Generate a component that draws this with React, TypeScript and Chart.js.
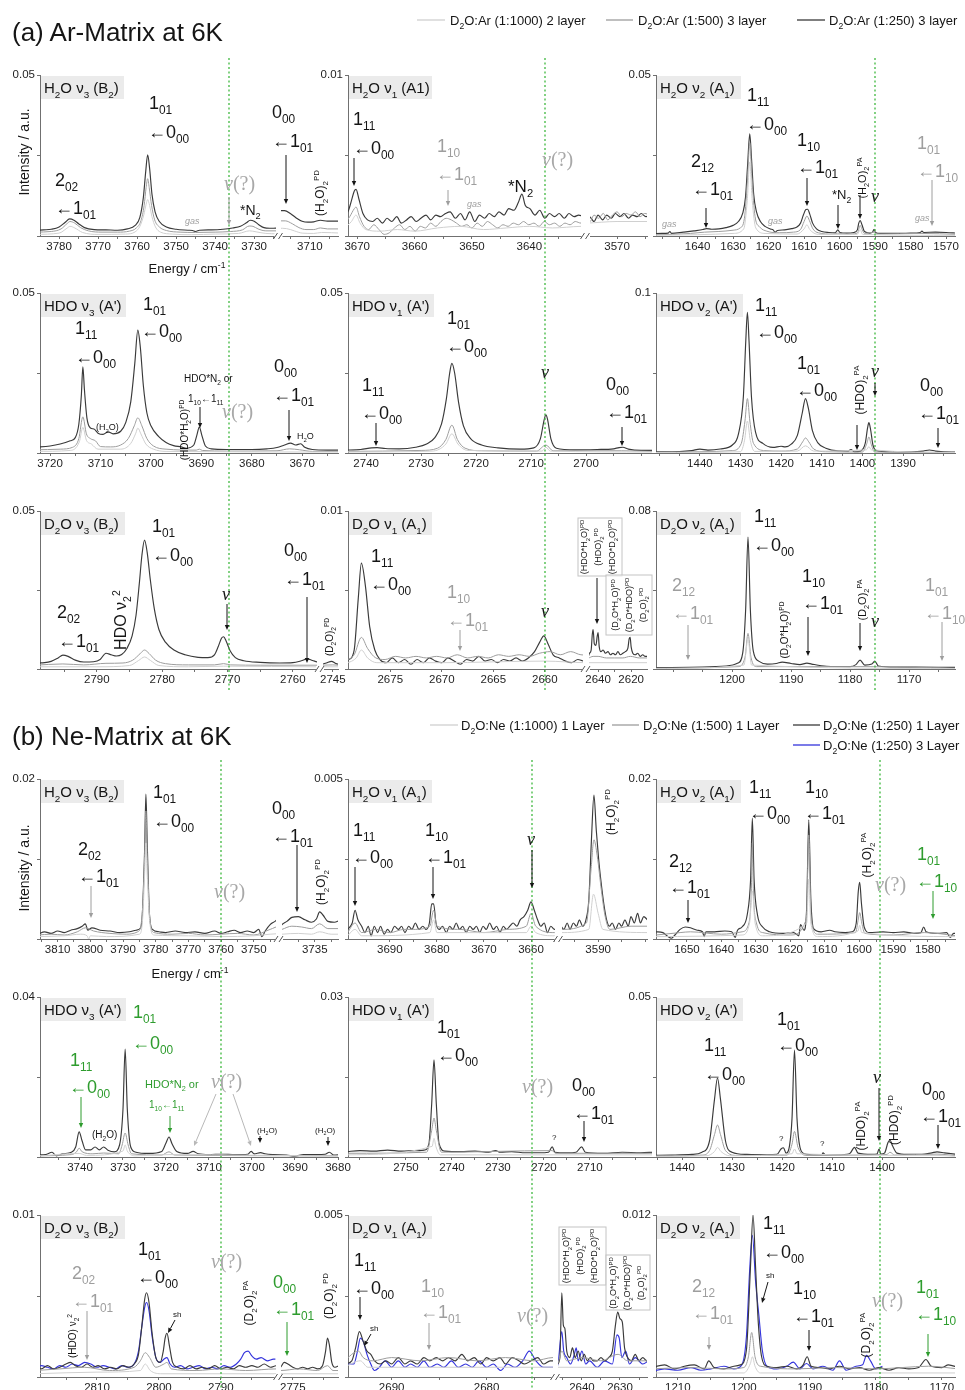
import React, { useEffect, useRef } from "react";
import { Chart, registerables } from "chart.js";

Chart.register(...registerables);

type Pt = [number, number];

const FONT = "'Liberation Sans', Arial, Helvetica, sans-serif";
const SERIF = "'Liberation Serif', 'DejaVu Serif', serif";
const C_DARK = "#3a3a3a";
const C_MID = "#9d9d9d";
const C_LIGHT = "#d0d0d0";
const C_BLUE = "#3434dc";
const AXIS = "#707070";
const BLK = "#151515";
const GRAY = "#9e9e9e";
const GREEN = "#2e9c2e";
const GREEN_LINE = "#3fb83f";

// ===================== DATA : (a) Ar matrix =====================
// H2O v3
const A_H2O_V3_DARK: Pt[] = [[3786,0.0017],[3784,0.0019],[3782,0.0021],[3780,0.0028],[3778.5,0.0042],[3777.3,0.0053],[3776.2,0.0049],[3775,0.0038],[3773.5,0.0026],[3771,0.002],[3768,0.0019],[3765,0.0018],[3762.5,0.0022],[3760.5,0.0033],[3759.3,0.0058],[3758.4,0.012],[3757.8,0.02],[3757.3,0.0252],[3756.8,0.021],[3756.2,0.013],[3755.4,0.0075],[3754.3,0.0045],[3752.5,0.0028],[3750,0.0021],[3747,0.0018],[3745.8,0.0017],[3745,0.0014],[3744,0.0018],[3741,0.0019],[3738,0.0021],[3735.5,0.0025],[3733.5,0.003],[3732,0.0041],[3731,0.0049],[3730,0.0046],[3728.8,0.0035],[3727.5,0.0026],[3726,0.0024],[3724,0.0025],[3718,0.0078],[3716.5,0.0079],[3715,0.007],[3713.5,0.0056],[3712,0.0046],[3710.5,0.0043],[3709,0.0044],[3707.3,0.0049],[3705.5,0.0046],[3703,0.0046],[3702,0.0046]];
const A_H2O_V3_MID: Pt[] = [[3786,0.0012],[3782,0.0014],[3779.5,0.0022],[3778,0.0038],[3777.2,0.0045],[3776,0.004],[3774.5,0.0026],[3772.5,0.0016],[3769,0.0012],[3765,0.0012],[3762,0.0015],[3760.2,0.0025],[3759,0.0048],[3758.2,0.0095],[3757.7,0.015],[3757.3,0.0178],[3756.9,0.015],[3756.3,0.0095],[3755.5,0.005],[3754.3,0.0028],[3752.5,0.0017],[3749,0.0012],[3745,0.0011],[3740,0.0012],[3736,0.0014],[3733,0.0019],[3731.3,0.0031],[3730.3,0.003],[3729,0.0022],[3727,0.0016],[3724,0.0016],[3718,0.0047],[3716.3,0.0047],[3714.5,0.0038],[3712.8,0.0026],[3711,0.002],[3709,0.002],[3707.3,0.0025],[3705.5,0.0022],[3702,0.0022]];
const A_H2O_V3_LIGHT: Pt[] = [[3786,0.0005],[3780,0.0009],[3778,0.0024],[3777.2,0.003],[3776,0.0025],[3774,0.0011],[3770,0.0005],[3763,0.0006],[3760.5,0.0013],[3759.3,0.003],[3758.3,0.0065],[3757.7,0.0098],[3757.3,0.0113],[3756.8,0.0095],[3756.2,0.006],[3755.3,0.0028],[3754,0.0012],[3751,0.0006],[3746,0.0004],[3740,0.0006],[3734,0.0008],[3731.2,0.0016],[3729.5,0.0013],[3727,0.0008],[3724,0.0007],[3718,0.0024],[3716,0.0023],[3714,0.0016],[3712,0.0009],[3709,0.0008],[3707,0.0011],[3702,0.0009]];
// H2O v1
const A_H2O_V1_DARK: Pt[] = [[3672.5,0.0011],[3671.5,0.0016],[3671,0.0022],[3670.5,0.0028],[3670.2,0.0029],[3669.7,0.0023],[3669,0.0014],[3668.2,0.001],[3667.3,0.0009],[3666.5,0.0011],[3665.6,0.0008],[3664.8,0.0011],[3664,0.0009],[3663.1,0.0012],[3662.3,0.0008],[3661.4,0.001],[3660.6,0.0012],[3659.7,0.0009],[3658.9,0.0011],[3658,0.0013],[3657.2,0.001],[3656.3,0.0013],[3655.5,0.0012],[3654.6,0.0014],[3653.8,0.0015],[3652.9,0.0011],[3652,0.0014],[3651.2,0.001],[3650.4,0.0015],[3649.5,0.0009],[3648.7,0.0013],[3647.8,0.0011],[3647,0.0014],[3646.1,0.0012],[3645.3,0.0015],[3644.4,0.0013],[3643.6,0.0017],[3642.7,0.0016],[3641.9,0.0021],[3641.3,0.0026],[3640.7,0.0019],[3639.9,0.0017],[3639,0.0013],[3638.2,0.0016],[3637.3,0.0011],[3636.5,0.0014],[3635.6,0.0012],[3634.8,0.0014],[3633.9,0.0011],[3633.1,0.0014],[3632.2,0.0012],[3631.4,0.0013],[3630.5,0.0012],[3575.5,0.001],[3574.8,0.0012],[3574,0.0009],[3573.3,0.0013],[3572.5,0.001],[3571.8,0.0013],[3571,0.0011],[3570.3,0.0014],[3569.5,0.0012],[3568.8,0.0014],[3568,0.0011],[3567.3,0.0013],[3566.5,0.0012],[3565.8,0.0014],[3565,0.0012],[3564.3,0.0013]];
const A_H2O_V1_MID: Pt[] = [[3672.5,0.0006],[3671.3,0.0012],[3670.5,0.0017],[3670.2,0.0018],[3669.6,0.0012],[3668.8,0.0006],[3668,0.0004],[3667.1,0.0007],[3666.2,0.0004],[3665.3,0.0001],[3664.4,0.0002],[3663.5,0.0005],[3662.6,0.0007],[3661.7,0.0004],[3660.8,0.0006],[3659.9,0.0003],[3659,0.0006],[3658.1,0.0005],[3657.2,0.0008],[3656.3,0.0006],[3655.4,0.0009],[3654.5,0.0011],[3653.6,0.001],[3652.7,0.0008],[3651.8,0.0006],[3650.9,0.0007],[3650,0.0005],[3649.1,0.0008],[3648.2,0.0006],[3647.3,0.0009],[3646.4,0.0007],[3645.5,0.0005],[3644.6,0.0007],[3643.7,0.0006],[3642.8,0.0008],[3641.9,0.0007],[3641,0.0009],[3640.1,0.0007],[3639.2,0.0008],[3638.3,0.0006],[3637.4,0.0009],[3636.5,0.0007],[3635.6,0.0008],[3634.7,0.0006],[3633.8,0.0008],[3632.9,0.0007],[3632,0.0009],[3631,0.0008],[3575.5,0.0012],[3574.7,0.0009],[3574,0.0013],[3573.2,0.0011],[3572.4,0.0014],[3571.6,0.001],[3570.8,0.0013],[3570,0.0015],[3569.2,0.0012],[3568.4,0.0014],[3567.6,0.0013],[3566.8,0.0015],[3566,0.0012],[3565.2,0.0014],[3564.3,0.0013]];
const A_H2O_V1_LIGHT: Pt[] = [[3672.5,0.0004],[3671,0.0009],[3670.2,0.0013],[3669.5,0.0008],[3668.5,0.0004],[3666,0.0003],[3663,0.0004],[3660,0.0003],[3656,0.0005],[3652,0.0006],[3648,0.0004],[3644,0.0005],[3640,0.0006],[3636,0.0005],[3631,0.0006],[3575.5,0.0008],[3570,0.0009],[3564.3,0.0009]];
// H2O v2
const A_H2O_V2_DARK: Pt[] = [[1653,0.0007],[1650,0.0008],[1648.3,0.0009],[1647.8,0.0014],[1647.3,0.0008],[1644,0.0012],[1641,0.0016],[1638.5,0.002],[1637.5,0.0023],[1636,0.0021],[1634,0.0022],[1632,0.0026],[1630,0.0033],[1628.5,0.0045],[1627.3,0.007],[1626.5,0.012],[1625.9,0.022],[1625.3,0.0317],[1624.8,0.024],[1624.2,0.013],[1623.4,0.0075],[1622.3,0.0045],[1621,0.003],[1619.5,0.0022],[1618.7,0.0019],[1618.2,0.0012],[1617.5,0.0017],[1615.5,0.0019],[1613.5,0.0023],[1612,0.0028],[1611,0.004],[1610.2,0.0065],[1609.5,0.0082],[1609,0.0083],[1608.4,0.0068],[1607.6,0.004],[1606.5,0.0022],[1605,0.0014],[1603,0.0011],[1601.2,0.001],[1600.5,0.0019],[1599.9,0.0011],[1598,0.0009],[1596,0.0011],[1595,0.0019],[1594.6,0.004],[1594.2,0.0048],[1593.7,0.0035],[1593,0.0014],[1591.5,0.0009],[1590.7,0.0012],[1590.3,0.0021],[1589.9,0.0011],[1588.5,0.0008],[1584,0.0008],[1580,0.0009],[1577.3,0.0011],[1576.8,0.0015],[1576.3,0.0011],[1573,0.0012],[1570,0.0011],[1567,0.0009]];
const A_H2O_V2_MID: Pt[] = [[1653,0.0004],[1647,0.0005],[1642,0.0008],[1638,0.0012],[1634,0.0014],[1630,0.0018],[1628,0.0025],[1626.8,0.0055],[1625.9,0.018],[1625.3,0.029],[1624.7,0.018],[1623.8,0.006],[1622.5,0.0028],[1620.5,0.0015],[1617,0.001],[1613,0.0012],[1611,0.002],[1610,0.0045],[1609.2,0.0062],[1608.5,0.0048],[1607.5,0.0022],[1606,0.001],[1602,0.0006],[1600.5,0.0009],[1598,0.0006],[1595,0.0009],[1594.5,0.0025],[1594.2,0.0033],[1593.8,0.0024],[1593,0.0008],[1590.3,0.0012],[1589.5,0.0006],[1576.8,0.0008],[1567,0.0005]];
const A_H2O_V2_LIGHT: Pt[] = [[1653,0.0002],[1640,0.0004],[1630,0.0008],[1627,0.0022],[1626,0.011],[1625.3,0.023],[1624.6,0.011],[1623.6,0.0025],[1621,0.0008],[1612,0.0006],[1610,0.0022],[1609.2,0.0035],[1608.4,0.002],[1606,0.0005],[1595,0.0005],[1594.2,0.002],[1593.5,0.0005],[1567,0.0002]];
// HDO v3
const A_HDO_V3_DARK: Pt[] = [[3723,0.0018],[3720,0.0022],[3718,0.0028],[3716,0.0038],[3715,0.0048],[3714.3,0.009],[3713.8,0.018],[3713.5,0.0269],[3713.2,0.02],[3712.7,0.011],[3712,0.0078],[3711.3,0.0075],[3710.5,0.0062],[3709.5,0.0058],[3708.5,0.0066],[3707.5,0.006],[3706,0.0068],[3705,0.0095],[3704,0.016],[3703.2,0.028],[3702.6,0.0384],[3702.1,0.033],[3701.5,0.021],[3700.8,0.0125],[3700,0.0085],[3698.5,0.0052],[3697,0.0033],[3695.5,0.0023],[3694,0.0019],[3693,0.0015],[3691.5,0.0025],[3690.9,0.0055],[3690.4,0.0081],[3689.9,0.0055],[3689.2,0.0022],[3688,0.0013],[3685,0.0011],[3680,0.0011],[3677,0.0013],[3675,0.0017],[3673.5,0.0025],[3672.3,0.0031],[3671.3,0.0025],[3670.3,0.0029],[3669.5,0.0018],[3668,0.0011],[3665,0.0009],[3662,0.0009]];
const A_HDO_V3_MID: Pt[] = [[3723,0.001],[3718,0.0012],[3715.5,0.0018],[3714.3,0.0045],[3713.5,0.0113],[3712.8,0.006],[3712,0.0045],[3711,0.0038],[3710,0.002],[3708,0.0019],[3706,0.0025],[3704.5,0.0045],[3703.3,0.0085],[3702.6,0.011],[3701.8,0.0085],[3700.8,0.0045],[3699.5,0.0022],[3697,0.0012],[3691,0.0009],[3690.4,0.0012],[3689.8,0.0008],[3685,0.0006],[3675,0.0007],[3672.5,0.0013],[3670.5,0.001],[3668,0.0005],[3662,0.0005]];
const A_HDO_V3_LIGHT: Pt[] = [[3723,0.0005],[3716,0.0008],[3714.2,0.0035],[3713.5,0.008],[3712.8,0.004],[3711.8,0.0028],[3710.5,0.0012],[3706,0.0012],[3704,0.003],[3703,0.0062],[3702.6,0.0078],[3702,0.006],[3701,0.0028],[3699.5,0.0012],[3697,0.0005],[3662,0.0003]];
// HDO v1
const A_HDO_V1_DARK: Pt[] = [[2744,0.0009],[2741,0.0011],[2739,0.0016],[2738,0.0017],[2736.5,0.0014],[2734,0.0013],[2731,0.0018],[2729,0.0028],[2727.5,0.0048],[2726.3,0.009],[2725.4,0.017],[2724.8,0.025],[2724.4,0.028],[2723.9,0.025],[2723.2,0.016],[2722.3,0.0085],[2721,0.0045],[2719,0.0025],[2716,0.0016],[2712,0.0012],[2709.5,0.0016],[2708.3,0.0045],[2707.6,0.0105],[2707.3,0.0119],[2707,0.0105],[2706.4,0.0045],[2705.4,0.0015],[2702,0.001],[2698,0.0011],[2695,0.0013],[2694,0.0017],[2693.3,0.0018],[2692.3,0.0012],[2690,0.0008],[2688,0.0008]];
const A_HDO_V1_MID: Pt[] = [[2744,0.0005],[2730,0.0008],[2727,0.0015],[2725.5,0.0042],[2724.4,0.0087],[2723.4,0.0042],[2722,0.0015],[2719,0.0007],[2709,0.0006],[2707.3,0.0025],[2706,0.0007],[2693.5,0.0007],[2688,0.0005]];
const A_HDO_V1_LIGHT: Pt[] = [[2744,0.0003],[2728,0.0006],[2725.5,0.0028],[2724.4,0.006],[2723.3,0.0028],[2721.5,0.0008],[2708,0.0006],[2707.3,0.0018],[2706.5,0.0006],[2688,0.0003]];
// HDO v2
const A_HDO_V2_DARK: Pt[] = [[1451,0.0007],[1445,0.0009],[1442,0.0015],[1440,0.0024],[1438,0.0018],[1435,0.0025],[1432,0.005],[1430.5,0.012],[1429.3,0.035],[1428.7,0.07],[1428.3,0.088],[1427.9,0.07],[1427.3,0.035],[1426.3,0.013],[1424.5,0.006],[1422,0.0035],[1420,0.0042],[1419,0.0038],[1417.5,0.0055],[1416,0.011],[1414.8,0.025],[1414,0.034],[1413.3,0.028],[1412.3,0.014],[1411,0.0065],[1409,0.003],[1406,0.0013],[1403.5,0.0012],[1402.8,0.0022],[1402,0.0008],[1400.5,0.0012],[1399.3,0.006],[1398.7,0.016],[1398.4,0.019],[1398,0.015],[1397.4,0.005],[1396.5,0.0015],[1393,0.0008],[1388,0.0007],[1385,0.0012],[1383.5,0.0019],[1382,0.0012],[1378,0.0006],[1376,0.0006]];
const A_HDO_V2_MID: Pt[] = [[1451,0.0004],[1440,0.0008],[1432,0.0015],[1429.8,0.006],[1428.9,0.02],[1428.3,0.034],[1427.7,0.02],[1426.8,0.006],[1424,0.0015],[1420,0.0012],[1416,0.0025],[1414.7,0.007],[1414,0.0094],[1413.2,0.007],[1412,0.0025],[1409,0.0008],[1400,0.0006],[1398.9,0.006],[1398.4,0.01],[1397.9,0.006],[1397,0.0006],[1376,0.0004]];
const A_HDO_V2_LIGHT: Pt[] = [[1451,0.0003],[1430,0.0008],[1429,0.008],[1428.3,0.02],[1427.6,0.008],[1426.5,0.001],[1416,0.0012],[1414,0.0045],[1412,0.0012],[1399,0.002],[1398.4,0.004],[1397.8,0.002],[1376,0.0003]];
// D2O v3
const A_D2O_V3_DARK: Pt[] = [[2799.5,0.0019],[2798,0.002],[2797,0.0024],[2796,0.0034],[2795.2,0.0044],[2794.4,0.004],[2793.3,0.0028],[2792,0.0022],[2790.5,0.0023],[2789.5,0.003],[2788.6,0.005],[2787.8,0.0045],[2787,0.0041],[2786.2,0.0046],[2785.4,0.0065],[2784.6,0.0105],[2784,0.017],[2783.5,0.027],[2783.1,0.036],[2782.7,0.0408],[2782.3,0.037],[2781.8,0.028],[2781.2,0.019],[2780.5,0.0125],[2779.5,0.0085],[2778.2,0.006],[2776.5,0.0045],[2774.5,0.0037],[2773,0.0036],[2772,0.0045],[2771.4,0.0072],[2770.9,0.0098],[2770.6,0.0102],[2770.2,0.0088],[2769.6,0.0058],[2768.8,0.0036],[2767.5,0.0026],[2765,0.0021],[2762,0.0019],[2760,0.002],[2758.7,0.0026],[2757.8,0.0032],[2757,0.0027],[2756,0.0021],[2747,0.0014],[2746,0.0019],[2745.2,0.0024],[2744.5,0.0017],[2744,0.0015]];
const A_D2O_V3_MID: Pt[] = [[2799.5,0.0012],[2795.2,0.0016],[2792,0.0013],[2788.6,0.0018],[2786,0.0019],[2784.5,0.0028],[2783.4,0.0048],[2782.7,0.006],[2782,0.0049],[2781,0.0028],[2779.5,0.0017],[2776,0.0013],[2772,0.0013],[2770.6,0.0017],[2769.5,0.0013],[2765,0.0012],[2756,0.0012],[2747,0.0012],[2745,0.0013],[2744,0.0012]];
const A_D2O_V3_LIGHT: Pt[] = [[2799.5,0.0007],[2790,0.0007],[2785,0.0011],[2783.6,0.0027],[2782.7,0.0038],[2781.8,0.0027],[2780.5,0.0011],[2776,0.0007],[2770.6,0.0009],[2756,0.0007],[2744,0.0007]];
// D2O v1
const A_D2O_V1_DARK: Pt[] = [[2679.5,0.0005],[2679,0.0006],[2678.5,0.0012],[2678.1,0.0045],[2677.8,0.0067],[2677.4,0.0052],[2677,0.0027],[2676.5,0.0012],[2676,0.0006],[2675.4,0.0004],[2674.8,0.0007],[2674.2,0.0004],[2673.6,0.0006],[2673,0.0003],[2672.4,0.0006],[2671.8,0.0004],[2671.2,0.0007],[2670.6,0.0005],[2670,0.0004],[2669.4,0.0007],[2668.8,0.0005],[2668.2,0.0003],[2667.6,0.0006],[2667,0.0005],[2666.4,0.0008],[2665.8,0.0005],[2665.2,0.0006],[2664.6,0.0004],[2664,0.0006],[2663.4,0.0005],[2662.8,0.0007],[2662.2,0.0005],[2661.6,0.0007],[2661,0.0011],[2660.5,0.0017],[2660.1,0.0021],[2659.7,0.0016],[2659.2,0.0009],[2658.6,0.0007],[2658,0.0005],[2657.4,0.0004],[2656.8,0.0006],[2656.2,0.0005],[2646,0.0008],[2645.2,0.001],[2644.2,0.0012],[2643.5,0.0022],[2643,0.0025],[2642.3,0.0016],[2641.3,0.0015],[2640.5,0.0021],[2640,0.0023],[2639.3,0.0014],[2638.3,0.0011],[2637,0.0012],[2635.5,0.001],[2634,0.0011],[2632.5,0.0009],[2631,0.001],[2629.5,0.0009],[2628,0.0011],[2626.5,0.0009],[2625,0.001],[2623.5,0.0011],[2622,0.0013],[2621.2,0.0019],[2620.6,0.002],[2620,0.0014],[2619,0.001],[2617.5,0.0009],[2616,0.001],[2614.5,0.0008],[2613,0.0009],[2611.5,0.0008],[2610,0.0008]];
const A_D2O_V1_MID: Pt[] = [[2679.5,0.0005],[2678.5,0.0009],[2677.8,0.002],[2677.2,0.0013],[2676.4,0.0007],[2675.5,0.0006],[2674.5,0.0008],[2673.5,0.0007],[2672.5,0.0008],[2671.5,0.0007],[2670.5,0.0008],[2669.5,0.0007],[2668.5,0.0009],[2667.5,0.0007],[2666.5,0.0008],[2665.5,0.0007],[2664.5,0.0009],[2663.5,0.0008],[2662.5,0.0009],[2661.5,0.0008],[2660.5,0.001],[2659.5,0.0011],[2658.5,0.0009],[2657.5,0.0011],[2656.5,0.0009],[2646,0.0007],[2643,0.0008],[2640,0.0008],[2635,0.0007],[2630,0.0007],[2625,0.0007],[2620.5,0.0008],[2615,0.0007],[2610,0.0007]];
const A_D2O_V1_LIGHT: Pt[] = [[2679.5,0.0003],[2678.3,0.0007],[2677.8,0.0012],[2677.2,0.0007],[2676.3,0.0004],[2670,0.0004],[2660,0.0005],[2656,0.0004],[2646,0.0004],[2610,0.0004]];
// D2O v2
const A_D2O_V2_DARK: Pt[] = [[1213,0.0007],[1205,0.001],[1201,0.0015],[1199,0.003],[1198.2,0.008],[1197.7,0.03],[1197.3,0.0668],[1196.9,0.03],[1196.4,0.009],[1195.5,0.004],[1194,0.0025],[1192.5,0.0028],[1191.5,0.0035],[1190,0.0028],[1188.5,0.0022],[1187.3,0.003],[1186.5,0.0025],[1184,0.0014],[1180,0.0012],[1179,0.0022],[1178.3,0.0045],[1177.5,0.002],[1176.3,0.0025],[1175.8,0.004],[1175.2,0.0015],[1172,0.001],[1165,0.0009],[1162,0.0008]];
const A_D2O_V2_MID: Pt[] = [[1213,0.0004],[1199,0.0012],[1197.8,0.006],[1197.3,0.018],[1196.8,0.006],[1195.8,0.0012],[1178.3,0.0012],[1162,0.0004]];
const A_D2O_V2_LIGHT: Pt[] = [[1213,0.0002],[1198,0.002],[1197.3,0.0151],[1196.7,0.002],[1162,0.0002]];

// ===================== DATA : (b) Ne matrix =====================
const B_H2O_V3_DARK: Pt[] = [[3816,0.0006],[3814,0.0009],[3812,0.0007],[3810,0.001],[3808,0.0008],[3806,0.0011],[3804,0.0013],[3802.5,0.0016],[3801.5,0.0019],[3800.8,0.0011],[3799.5,0.0014],[3797,0.0011],[3794,0.001],[3791,0.0008],[3788,0.0009],[3786,0.0011],[3784.6,0.0014],[3784.1,0.003],[3783.4,0.011],[3783,0.0181],[3782.6,0.012],[3781.9,0.003],[3781,0.0012],[3779,0.0009],[3777,0.0008],[3774,0.001],[3771,0.0008],[3768,0.0009],[3765,0.0007],[3762,0.001],[3760,0.0007],[3758,0.0009],[3756,0.0011],[3754,0.0008],[3752,0.001],[3750,0.0008],[3748.5,0.0012],[3747.5,0.0003],[3746.5,0.001],[3745,0.0018],[3743.5,0.0022],[3742,0.0027],[3740,0.0028],[3738,0.0024],[3736,0.0021],[3734.5,0.0025],[3733.5,0.0034],[3732.5,0.003],[3731,0.0022],[3729,0.0021],[3727.5,0.0023]];
const B_H2O_V3_MID: Pt[] = [[3816,0.0005],[3812,0.0006],[3808,0.0005],[3804,0.0009],[3801.5,0.0014],[3799,0.001],[3794,0.0007],[3789,0.0006],[3785.5,0.0009],[3784.2,0.0028],[3783.4,0.01],[3783,0.016],[3782.6,0.0105],[3781.8,0.0026],[3780.5,0.0008],[3775,0.0006],[3770,0.0007],[3765,0.0005],[3760,0.0006],[3755,0.0007],[3750,0.0005],[3745,0.0012],[3742,0.0016],[3739,0.0015],[3736,0.0013],[3733.5,0.0019],[3731,0.0013],[3727.5,0.0013]];
const B_H2O_V3_LIGHT: Pt[] = [[3816,0.0003],[3808,0.0004],[3803,0.0006],[3801,0.0004],[3800.5,0.0],[3800,0.0004],[3795,0.0003],[3785,0.0006],[3784,0.0025],[3783.4,0.008],[3783,0.012],[3782.6,0.008],[3781.8,0.002],[3780.5,0.0005],[3770,0.0004],[3760,0.0003],[3750,0.0004],[3745,0.0006],[3740,0.0007],[3736,0.0006],[3733.5,0.0009],[3730,0.0006],[3727.5,0.0006]];
const B_H2O_V1_DARK: Pt[] = [[3699,0.0003],[3698,0.0005],[3697.4,0.0009],[3696.8,0.0006],[3696,0.0004],[3695.3,0.0002],[3694.6,0.0004],[3694,0.0001],[3693.3,0.0004],[3692.6,0.0002],[3692,0.0004],[3691.2,0.00015],[3690.5,0.0003],[3689.8,0.0002],[3689,0.0004],[3688.2,0.0003],[3687.5,0.0004],[3686.8,0.0002],[3686,0.0004],[3685.3,0.0003],[3684.6,0.0005],[3683.8,0.0003],[3683,0.0004],[3682.3,0.0003],[3681.6,0.0005],[3681.1,0.0011],[3680.7,0.0011],[3680.2,0.0005],[3679.5,0.0003],[3678.8,0.0004],[3678,0.0002],[3677.3,0.0004],[3676.6,0.0003],[3675.9,0.0005],[3675.2,0.0003],[3674.5,0.0004],[3673.8,0.0002],[3673,0.0004],[3672.3,0.0003],[3671.6,0.0004],[3670.9,0.0002],[3670.2,0.0004],[3669.5,0.0003],[3668.8,0.0005],[3668,0.0003],[3667.3,0.0004],[3666.6,0.0002],[3665.9,0.0004],[3665.2,0.0003],[3664.5,0.0004],[3663.8,0.0005],[3663,0.0004],[3662.3,0.0006],[3661.5,0.0007],[3660.7,0.0009],[3660,0.00116],[3659.3,0.0009],[3658.6,0.0006],[3657.9,0.0004],[3657.2,0.0005],[3656.5,0.0002],[3655.8,0.0004],[3655,0.0003],[3598,0.0004],[3597.3,0.0003],[3596.6,0.0005],[3596,0.0003],[3595.3,0.0005],[3594.6,0.0004],[3594,0.0006],[3593.3,0.0004],[3592.6,0.0006],[3592,0.0012],[3591.4,0.0032],[3590.9,0.0045],[3590.4,0.0034],[3589.9,0.0025],[3589.4,0.0018],[3588.8,0.0011],[3588.2,0.0006],[3587.6,0.0004],[3587,0.0005],[3586.3,0.0003],[3585.6,0.0005],[3585,0.0004],[3584.3,0.0006],[3583.6,0.0004],[3583,0.0007],[3582.3,0.0005],[3581.6,0.0008],[3581,0.0005],[3580.3,0.0007],[3579.5,0.0006]];
const B_H2O_V1_MID: Pt[] = [[3699,0.0002],[3697.4,0.0005],[3696,0.0002],[3693,0.0003],[3690,0.0002],[3687,0.0003],[3685,0.0003],[3681.5,0.0004],[3680.7,0.0009],[3680,0.0004],[3675,0.0003],[3670,0.0002],[3665,0.0003],[3661,0.0004],[3660,0.0008],[3659,0.0004],[3655,0.0002],[3598,0.0003],[3592.5,0.0005],[3591.5,0.0022],[3590.9,0.0031],[3590.2,0.0026],[3589.3,0.0015],[3588.5,0.0007],[3587.5,0.0003],[3583,0.0004],[3579.5,0.0004]];
const B_H2O_V1_LIGHT: Pt[] = [[3699,0.0001],[3697.4,0.0003],[3696,0.0001],[3681.5,0.0002],[3680.7,0.0006],[3680,0.0002],[3661,0.0002],[3660,0.0004],[3659,0.0002],[3655,0.0001],[3598,0.0002],[3592,0.0003],[3591,0.0014],[3590,0.0008],[3589,0.0003],[3579.5,0.0002]];
const B_H2O_V2_DARK: Pt[] = [[1659,0.0009],[1657,0.0008],[1655.5,0.0003],[1654.5,0.0001],[1653.5,0.0005],[1652,0.0012],[1650.5,0.0015],[1649,0.0014],[1647,0.0011],[1645.5,0.0009],[1645,0.0003],[1644.5,0.0009],[1642,0.0009],[1639,0.001],[1637,0.0009],[1636,0.0002],[1635.3,0.0011],[1634,0.0015],[1632.5,0.003],[1631.5,0.0075],[1631,0.0151],[1630.5,0.0075],[1629.5,0.003],[1628,0.0015],[1626,0.0009],[1622,0.0007],[1619,0.0008],[1617.5,0.0004],[1617,0.0018],[1616,0.0011],[1615.2,0.004],[1614.6,0.0149],[1614,0.005],[1613.2,0.0013],[1611,0.0009],[1608.5,0.0011],[1607,0.0009],[1604,0.0008],[1602,0.0009],[1600.8,0.002],[1600.2,0.006],[1599.8,0.0071],[1599.3,0.0045],[1598.5,0.0015],[1597,0.0008],[1593,0.0009],[1590,0.0008],[1587,0.0009],[1584,0.0007],[1582,0.0008],[1581.2,0.0015],[1580.5,0.0009],[1577,0.0007],[1574.5,0.0008],[1573.5,0.0002],[1572.5,0.0007],[1571.5,0.0007]];
const B_H2O_V2_MID: Pt[] = [[1659,0.0005],[1652,0.0008],[1649,0.0009],[1640,0.0006],[1634,0.0009],[1632,0.002],[1631.3,0.006],[1631,0.012],[1630.7,0.006],[1629.8,0.002],[1628,0.0008],[1620,0.0005],[1615.3,0.0025],[1614.6,0.013],[1613.9,0.0025],[1612,0.0006],[1601,0.0008],[1600.2,0.0025],[1599.8,0.0033],[1599.2,0.002],[1598.3,0.0007],[1590,0.0005],[1581,0.0008],[1571.5,0.0004]];
const B_H2O_V2_LIGHT: Pt[] = [[1659,0.0003],[1634,0.0005],[1631.8,0.002],[1631,0.006],[1630.2,0.002],[1628,0.0004],[1615.2,0.002],[1614.6,0.0075],[1614,0.002],[1612,0.0003],[1600.3,0.001],[1599.8,0.0017],[1599.2,0.0008],[1571.5,0.0003]];
const B_HDO_V3_DARK: Pt[] = [[3750,0.0005],[3748,0.0006],[3746.5,0.0012],[3745.5,0.0003],[3744,0.0008],[3742,0.0012],[3741,0.0025],[3740.2,0.0063],[3739.5,0.004],[3738.7,0.0018],[3737.5,0.0018],[3736.5,0.0025],[3735.5,0.0018],[3734.5,0.0025],[3733.5,0.0017],[3732,0.0013],[3730.8,0.003],[3730,0.012],[3729.5,0.027],[3729,0.012],[3728.2,0.0025],[3727,0.0012],[3724,0.0009],[3721,0.0014],[3720,0.0035],[3719.3,0.005],[3718.6,0.0033],[3717.5,0.0014],[3715,0.0009],[3713.7,0.0014],[3712.5,0.0008],[3710,0.0006],[3707,0.0007],[3704,0.0006],[3701,0.0007],[3700.2,0.0014],[3699.5,0.0008],[3698,0.0011],[3697,0.0008],[3695,0.0006],[3692,0.0005],[3690,0.0002],[3688,0.0006],[3685,0.0006],[3683,0.0007],[3682,0.0012],[3681,0.0005],[3679.5,0.0006]];
const B_HDO_V3_MID: Pt[] = [[3750,0.0003],[3742,0.0006],[3740.8,0.0013],[3740.2,0.0022],[3739.5,0.0013],[3737,0.0008],[3734.5,0.001],[3731,0.0008],[3730.2,0.003],[3729.5,0.006],[3728.8,0.003],[3728,0.0008],[3721,0.0005],[3719.3,0.0013],[3718,0.0005],[3679.5,0.0003]];
const B_HDO_V3_LIGHT: Pt[] = [[3750,0.0002],[3740.2,0.0009],[3738.5,0.0004],[3730,0.0015],[3729.5,0.003],[3729,0.0015],[3727,0.0003],[3719.3,0.0006],[3679.5,0.0002]];
const B_HDO_V1_DARK: Pt[] = [[2763,0.001],[2760,0.0012],[2757,0.0011],[2754,0.0013],[2751,0.0011],[2748,0.0012],[2746,0.0013],[2745,0.0025],[2744.4,0.01],[2743.9,0.0182],[2743.4,0.01],[2742.8,0.0025],[2741.5,0.0011],[2738,0.001],[2735,0.0011],[2732,0.0009],[2730.5,0.0012],[2729.5,0.0009],[2727,0.001],[2724,0.0008],[2721,0.0008],[2719,0.0009],[2718.2,0.0019],[2717.6,0.0009],[2715,0.0008],[2713,0.0009],[2711.8,0.0019],[2711,0.0009],[2707,0.0007],[2703,0.0009],[2699,0.0008],[2696,0.0009]];
const B_HDO_V1_MID: Pt[] = [[2763,0.0007],[2745.5,0.0009],[2744.4,0.005],[2743.9,0.0073],[2743.4,0.005],[2742.3,0.0009],[2718.2,0.0012],[2717.5,0.0007],[2696,0.0007]];
const B_HDO_V1_LIGHT: Pt[] = [[2763,0.0004],[2744.3,0.002],[2743.9,0.0035],[2743.5,0.002],[2742.5,0.0004],[2696,0.0004]];
const B_HDO_V2_DARK: Pt[] = [[1446,0.0005],[1442,0.0006],[1438,0.0008],[1436,0.0015],[1434.5,0.005],[1433.5,0.018],[1432.9,0.0247],[1432.3,0.018],[1431.3,0.005],[1430,0.0015],[1427,0.0008],[1423,0.0007],[1421,0.0008],[1420.2,0.0025],[1419.7,0.0029],[1419.2,0.0012],[1418.5,0.0035],[1418,0.012],[1417.5,0.0334],[1417,0.012],[1416.4,0.003],[1415.5,0.001],[1413,0.0007],[1412,0.0008],[1411.8,0.0013],[1411.3,0.0007],[1409,0.0007],[1406.5,0.001],[1405.5,0.003],[1404.8,0.0012],[1402,0.0008],[1401,0.0009],[1400.6,0.0025],[1400.2,0.0009],[1399.5,0.0012],[1398.8,0.0045],[1398.4,0.0053],[1397.9,0.0035],[1397,0.0012],[1395,0.0008],[1392,0.0008],[1390,0.0013],[1389,0.0016],[1387.5,0.0013],[1385,0.0008]];
const B_HDO_V2_MID: Pt[] = [[1446,0.0003],[1436,0.0006],[1434.5,0.002],[1433.5,0.007],[1432.9,0.01],[1432.3,0.007],[1431.3,0.002],[1429,0.0005],[1419,0.0006],[1418,0.004],[1417.5,0.008],[1416.8,0.003],[1415,0.0005],[1399,0.0008],[1398.4,0.0015],[1397.5,0.0006],[1389,0.0009],[1385,0.0004]];
const B_HDO_V2_LIGHT: Pt[] = [[1446,0.0002],[1435,0.0004],[1433.5,0.0017],[1432.9,0.003],[1432.2,0.0017],[1430.5,0.0004],[1418,0.001],[1417.5,0.0025],[1417,0.001],[1389,0.0005],[1385,0.0002]];
const B_D2O_V3_DARK: Pt[] = [[2820,0.0006],[2819,0.0005],[2818,0.0007],[2817,0.0005],[2816,0.0006],[2815,0.0008],[2814.3,0.0009],[2813.5,0.0007],[2812.5,0.0006],[2811.6,0.0008],[2810.7,0.0006],[2809.8,0.0007],[2808.8,0.0005],[2807.8,0.0006],[2806.8,0.0005],[2805.8,0.0007],[2804.8,0.0006],[2804,0.0008],[2803.3,0.0014],[2802.8,0.003],[2802.3,0.0048],[2802,0.0052],[2801.6,0.0046],[2801.1,0.0027],[2800.5,0.0012],[2799.8,0.0009],[2799.3,0.0016],[2799,0.0024],[2798.7,0.0027],[2798.3,0.0019],[2797.8,0.0009],[2797,0.0006],[2796,0.0005],[2795,0.0007],[2794,0.0005],[2793,0.0006],[2792,0.0005],[2791,0.0007],[2790,0.0005],[2789,0.0006],[2788,0.0005],[2787,0.0007],[2786,0.0006],[2785,0.0007],[2784,0.0006],[2783,0.0008],[2782,0.0006],[2781,0.0007],[2777,0.0006],[2776.4,0.0009],[2775.8,0.0008],[2775,0.0006],[2774.2,0.0005],[2773.4,0.0006],[2772.6,0.0005],[2771.8,0.0006],[2771,0.0005],[2770.2,0.0007],[2769.7,0.0016],[2769.4,0.0024],[2769.1,0.002],[2768.7,0.0009],[2768.2,0.0006],[2767.5,0.0007]];
const B_D2O_V3_BLUE: Pt[] = [[2820,0.0006],[2819,0.0007],[2818,0.0006],[2817,0.0005],[2816,0.0007],[2815,0.0006],[2814,0.0008],[2813,0.0007],[2812,0.0009],[2811,0.0008],[2810,0.0006],[2809,0.0007],[2808,0.0006],[2807,0.0005],[2806,0.0007],[2805,0.0006],[2804,0.0008],[2803.3,0.0016],[2802.8,0.003],[2802.3,0.0043],[2802,0.0046],[2801.6,0.0041],[2801.1,0.0025],[2800.5,0.0012],[2799.8,0.0009],[2799.2,0.0011],[2798.7,0.0012],[2798.2,0.0008],[2797.5,0.0006],[2796.5,0.0007],[2795.5,0.0005],[2794.5,0.0006],[2793.5,0.0007],[2792.5,0.0005],[2791.5,0.0006],[2790.5,0.0005],[2789.5,0.0007],[2788.5,0.0006],[2787.5,0.0008],[2786.8,0.0011],[2786.2,0.0015],[2785.6,0.0016],[2785,0.0013],[2784.3,0.0011],[2783.5,0.0012],[2782.5,0.001],[2781.5,0.0011],[2781.2,0.0011]];
const B_D2O_V3_MID: Pt[] = [[2820,0.0004],[2816,0.0005],[2812,0.0006],[2808,0.0004],[2804,0.0006],[2803,0.001],[2802.2,0.0015],[2801.5,0.0012],[2800.5,0.0006],[2799.2,0.0008],[2798.7,0.0009],[2798,0.0005],[2794,0.0004],[2790,0.0005],[2786,0.0004],[2781,0.0005],[2777,0.0004],[2774,0.0005],[2771,0.0004],[2769.4,0.0007],[2768.5,0.0004],[2767.5,0.0004]];
const B_D2O_V3_LIGHT: Pt[] = [[2820,0.0002],[2810,0.0003],[2803,0.0004],[2802.2,0.0008],[2801.4,0.0004],[2799.5,0.0002],[2790,0.0002],[2781,0.0002],[2777,0.0002],[2767.5,0.0002]];
const B_D2O_V1_DARK: Pt[] = [[2695,0.0004],[2694.2,0.0005],[2693.8,0.0009],[2693.4,0.0014],[2693,0.0011],[2692.6,0.0008],[2692.2,0.0007],[2691.8,0.0005],[2691.2,0.0004],[2690.6,0.0005],[2690,0.0004],[2689.3,0.0006],[2688.6,0.0004],[2688,0.0005],[2687.3,0.0004],[2686.6,0.0006],[2686,0.0005],[2685.3,0.0006],[2684.6,0.0005],[2684,0.0006],[2683.3,0.0005],[2682.6,0.0007],[2682,0.0005],[2681.3,0.0006],[2680.6,0.0004],[2680,0.0006],[2679.3,0.0005],[2678.6,0.0006],[2678,0.0004],[2677.3,0.0006],[2676.6,0.0005],[2676,0.0004],[2675.3,0.0005],[2674.6,0.0006],[2674,0.0004],[2673.3,0.0005],[2672.8,0.0005],[2646.5,0.0004],[2645.8,0.0006],[2645.3,0.0026],[2644.9,0.0016],[2644.5,0.0015],[2644,0.0008],[2643.2,0.0006],[2642.5,0.0009],[2641.8,0.0006],[2641,0.0008],[2640.2,0.0005],[2639.4,0.0007],[2638.6,0.0005],[2637.8,0.0006],[2637,0.0005],[2636,0.0005],[2635,0.0006],[2634,0.0005],[2633,0.0006],[2632,0.0008],[2631.2,0.0016],[2630.6,0.002],[2630,0.0018],[2629.4,0.0017],[2628.8,0.0009],[2628,0.0006],[2627,0.0005],[2626,0.0007],[2625,0.0005],[2624,0.0006],[2623,0.0005],[2622.5,0.0006]];
const B_D2O_V1_BLUE: Pt[] = [[2695,0.0004],[2694,0.0004],[2693.6,0.0008],[2693.3,0.0012],[2693,0.0011],[2692.6,0.0007],[2692.2,0.0004],[2691.8,0.0002],[2691.3,0.0003],[2690.7,0.0005],[2690,0.0003],[2689.3,0.0005],[2688.6,0.0003],[2688,0.0004],[2687.3,0.0003],[2686.6,0.0005],[2686,0.0003],[2685.2,0.0004],[2684.5,0.0003],[2683.7,0.0005],[2683,0.0003],[2682.2,0.0004],[2681.5,0.0003],[2680.8,0.0005],[2680,0.0003],[2679.3,0.0004],[2678.5,0.0002],[2677.8,0.0004],[2677,0.0003],[2676.2,0.0005],[2675.5,0.0008],[2674.8,0.0005],[2674,0.0003],[2673,0.0003],[2646.5,0.0003],[2645.3,0.0014],[2644.8,0.0008],[2644,0.0006],[2643,0.0004],[2642,0.0007],[2641.5,0.0009],[2641,0.0005],[2640,0.0008],[2639,0.0004],[2638,0.0005],[2636,0.0003],[2634,0.0005],[2632,0.0004],[2630.8,0.0013],[2630.2,0.0012],[2629.5,0.0006],[2628.5,0.0008],[2627.5,0.0004],[2626,0.0006],[2624,0.0004],[2622.5,0.0005]];
const B_D2O_V1_MID: Pt[] = [[2695,0.0005],[2693.5,0.0008],[2693,0.0006],[2692,0.0005],[2690,0.0006],[2687,0.0005],[2684,0.0006],[2681,0.0005],[2678,0.0006],[2675,0.0005],[2673,0.0006],[2646.5,0.0004],[2645.3,0.0008],[2644,0.0005],[2640,0.0006],[2635,0.0005],[2630.5,0.0007],[2628,0.0005],[2622.5,0.0005]];
const B_D2O_V1_LIGHT: Pt[] = [[2695,0.0003],[2693.3,0.0005],[2692.5,0.0003],[2673,0.0003],[2646.5,0.0003],[2622.5,0.0003]];
const B_D2O_V2_DARK: Pt[] = [[1214,0.0007],[1212,0.0009],[1210.5,0.0006],[1209,0.0008],[1207.5,0.0009],[1206,0.0006],[1205.3,0.0012],[1204.5,0.0007],[1203,0.0006],[1201.5,0.0008],[1200.5,0.0009],[1199.6,0.002],[1199,0.008],[1198.6,0.012],[1198.2,0.008],[1197.8,0.004],[1197.3,0.0015],[1196.5,0.0008],[1195,0.0007],[1193.5,0.0008],[1192,0.0006],[1191,0.0009],[1190.4,0.0015],[1189.8,0.0008],[1188.5,0.0007],[1187,0.0006],[1185.5,0.0008],[1184,0.0006],[1182.5,0.0007],[1181,0.0005],[1179.5,0.0007],[1178,0.0005],[1176.5,0.0007],[1175,0.0006],[1173.5,0.0007],[1172.4,0.0013],[1171.6,0.0008],[1170,0.0007],[1169,0.0009],[1167.5,0.0007]];
const B_D2O_V2_BLUE: Pt[] = [[1214,0.0004],[1212,0.0006],[1210,0.0005],[1208,0.0007],[1206.5,0.0005],[1205,0.0006],[1203,0.0008],[1201.5,0.0006],[1200.3,0.0009],[1199.6,0.003],[1199.1,0.008],[1198.7,0.0105],[1198.2,0.007],[1197.7,0.0045],[1197.2,0.002],[1196.5,0.0008],[1195,0.0006],[1193.5,0.0008],[1192.5,0.0011],[1191.5,0.0006],[1190.5,0.001],[1189.5,0.0006],[1188,0.0008],[1186.5,0.0005],[1185.5,0.0012],[1184.5,0.0005],[1183,0.0008],[1182,0.0009],[1181.4,0.0016],[1180.8,0.0012],[1180,0.0006],[1179,0.0008]];
const B_D2O_V2_MID: Pt[] = [[1214,0.0006],[1208,0.0007],[1203,0.0006],[1200,0.0007],[1199.3,0.0015],[1198.8,0.0033],[1198.3,0.0015],[1197.5,0.0008],[1192,0.0006],[1186,0.0007],[1180,0.0006],[1176,0.0007],[1172,0.0008],[1167.5,0.0006]];
const B_D2O_V2_LIGHT: Pt[] = [[1214,0.0003],[1200,0.0003],[1199,0.001],[1198.7,0.0015],[1198.3,0.0008],[1197.5,0.0003],[1167.5,0.0003]];

// ===================== tick labels =====================
const TK_A1 = [3780, 3770, 3760, 3750, 3740, 3730];
const TK_A1b = [3710];
const TK_A2 = [3670, 3660, 3650, 3640];
const TK_A2b = [3570];
const TK_A3 = [1640, 1630, 1620, 1610, 1600, 1590, 1580, 1570];
const TK_A4 = [3720, 3710, 3700, 3690, 3680, 3670];
const TK_A5 = [2740, 2730, 2720, 2710, 2700];
const TK_A6 = [1440, 1430, 1420, 1410, 1400, 1390];
const TK_A7 = [2790, 2780, 2770, 2760];
const TK_A7b = [2745];
const TK_A8 = [2675, 2670, 2665, 2660];
const TK_A8b = [2640, 2620];
const TK_A9 = [1200, 1190, 1180, 1170];
const TK_B1 = [3810, 3800, 3790, 3780, 3770, 3760, 3750];
const TK_B1b = [3735];
const TK_B2 = [3690, 3680, 3670, 3660];
const TK_B2b = [3590];
const TK_B3 = [1650, 1640, 1630, 1620, 1610, 1600, 1590, 1580];
const TK_B4 = [3740, 3730, 3720, 3710, 3700, 3690, 3680];
const TK_B5 = [2750, 2740, 2730, 2720, 2710];
const TK_B6 = [1440, 1430, 1420, 1410, 1400];
const TK_B7 = [2810, 2800, 2790];
const TK_B7b = [2775];
const TK_B8 = [2690, 2680];
const TK_B8b = [2640, 2630];
const TK_B9 = [1210, 1200, 1190, 1180, 1170];

// ===================== layout =====================
type Seg = { px0: number; px1: number; hi: number; lo: number; labels: number[]; minor: number };
type Series = { pts: Pt[]; color: string; width: number };
type Panel = { top: number; bottom: number; ymax: number; ylab: string; series: Series[]; segs: Seg[] };

const S = (pts: Pt[], color: string, width = 1): Series => ({ pts, color, width });
const sr = (l: Pt[], m: Pt[], d: Pt[], b?: Pt[]) => {
  const out = [S(l, C_LIGHT), S(m, C_MID), S(d, C_DARK, 1.15)];
  if (b) out.push(S(b, C_BLUE, 1.15));
  return out;
};

const PANELS: Panel[] = [
  { top: 75, bottom: 236, ymax: 0.05, ylab: "0.05", series: sr(A_H2O_V3_LIGHT, A_H2O_V3_MID, A_H2O_V3_DARK),
    segs: [{ px0: 40, px1: 276, hi: 3784.9, lo: 3724.4, labels: TK_A1, minor: 5 }, { px0: 281, px1: 338, hi: 3717.4, lo: 3702.8, labels: TK_A1b, minor: 5 }] },
  { top: 75, bottom: 236, ymax: 0.01, ylab: "0.01", series: sr(A_H2O_V1_LIGHT, A_H2O_V1_MID, A_H2O_V1_DARK),
    segs: [{ px0: 348, px1: 581, hi: 3671.6, lo: 3631.0, labels: TK_A2, minor: 5 }, { px0: 590, px1: 647, hi: 3574.7, lo: 3564.8, labels: TK_A2b, minor: 5 }] },
  { top: 75, bottom: 236, ymax: 0.05, ylab: "0.05", series: sr(A_H2O_V2_LIGHT, A_H2O_V2_MID, A_H2O_V2_DARK),
    segs: [{ px0: 656, px1: 955, hi: 1651.7, lo: 1567.5, labels: TK_A3, minor: 5 }] },
  { top: 293, bottom: 453, ymax: 0.05, ylab: "0.05", series: sr(A_HDO_V3_LIGHT, A_HDO_V3_MID, A_HDO_V3_DARK),
    segs: [{ px0: 40, px1: 338, hi: 3722.0, lo: 3662.9, labels: TK_A4, minor: 5 }] },
  { top: 293, bottom: 453, ymax: 0.05, ylab: "0.05", series: sr(A_HDO_V1_LIGHT, A_HDO_V1_MID, A_HDO_V1_DARK),
    segs: [{ px0: 348, px1: 652, hi: 2743.3, lo: 2688.0, labels: TK_A5, minor: 5 }] },
  { top: 293, bottom: 453, ymax: 0.1, ylab: "0.1", series: sr(A_HDO_V2_LIGHT, A_HDO_V2_MID, A_HDO_V2_DARK),
    segs: [{ px0: 656, px1: 955, hi: 1450.8, lo: 1377.2, labels: TK_A6, minor: 5 }] },
  { top: 511, bottom: 669, ymax: 0.05, ylab: "0.05", series: sr(A_D2O_V3_LIGHT, A_D2O_V3_MID, A_D2O_V3_DARK),
    segs: [{ px0: 40, px1: 317, hi: 2798.7, lo: 2756.3, labels: TK_A7, minor: 5 }, { px0: 323, px1: 338, hi: 2746.5, lo: 2744.2, labels: TK_A7b, minor: 5 }] },
  { top: 511, bottom: 669, ymax: 0.01, ylab: "0.01", series: sr(A_D2O_V1_LIGHT, A_D2O_V1_MID, A_D2O_V1_DARK),
    segs: [{ px0: 348, px1: 583, hi: 2679.1, lo: 2656.3, labels: TK_A8, minor: 5 }, { px0: 589, px1: 647, hi: 2645.5, lo: 2610.4, labels: TK_A8b, minor: 10 }] },
  { top: 511, bottom: 669, ymax: 0.08, ylab: "0.08", series: sr(A_D2O_V2_LIGHT, A_D2O_V2_MID, A_D2O_V2_DARK),
    segs: [{ px0: 656, px1: 955, hi: 1212.9, lo: 1162.2, labels: TK_A9, minor: 5 }] },

  { top: 779, bottom: 939, ymax: 0.02, ylab: "0.02", series: sr(B_H2O_V3_LIGHT, B_H2O_V3_MID, B_H2O_V3_DARK),
    segs: [{ px0: 40, px1: 276, hi: 3815.4, lo: 3743.2, labels: TK_B1, minor: 5 }, { px0: 282, px1: 338, hi: 3745.0, lo: 3727.9, labels: TK_B1b, minor: 5 }] },
  { top: 779, bottom: 939, ymax: 0.005, ylab: "0.005", series: sr(B_H2O_V1_LIGHT, B_H2O_V1_MID, B_H2O_V1_DARK),
    segs: [{ px0: 348, px1: 555, hi: 3698.9, lo: 3654.9, labels: TK_B2, minor: 5 }, { px0: 562, px1: 647, hi: 3597.7, lo: 3579.6, labels: TK_B2b, minor: 5 }] },
  { top: 779, bottom: 939, ymax: 0.02, ylab: "0.02", series: sr(B_H2O_V2_LIGHT, B_H2O_V2_MID, B_H2O_V2_DARK),
    segs: [{ px0: 656, px1: 955, hi: 1659.0, lo: 1572.1, labels: TK_B3, minor: 5 }] },
  { top: 997, bottom: 1157, ymax: 0.04, ylab: "0.04", series: sr(B_HDO_V3_LIGHT, B_HDO_V3_MID, B_HDO_V3_DARK),
    segs: [{ px0: 40, px1: 338, hi: 3749.3, lo: 3680.0, labels: TK_B4, minor: 5 }] },
  { top: 997, bottom: 1157, ymax: 0.03, ylab: "0.03", series: sr(B_HDO_V1_LIGHT, B_HDO_V1_MID, B_HDO_V1_DARK),
    segs: [{ px0: 348, px1: 652, hi: 2762.6, lo: 2696.5, labels: TK_B5, minor: 5 }] },
  { top: 997, bottom: 1157, ymax: 0.05, ylab: "0.05", series: sr(B_HDO_V2_LIGHT, B_HDO_V2_MID, B_HDO_V2_DARK),
    segs: [{ px0: 656, px1: 955, hi: 1445.2, lo: 1385.4, labels: TK_B6, minor: 5 }] },
  { top: 1215, bottom: 1377, ymax: 0.01, ylab: "0.01", series: sr(B_D2O_V3_LIGHT, B_D2O_V3_MID, B_D2O_V3_DARK, B_D2O_V3_BLUE),
    segs: [{ px0: 40, px1: 276, hi: 2819.2, lo: 2781.1, labels: TK_B7, minor: 5 }, { px0: 281, px1: 338, hi: 2776.9, lo: 2767.7, labels: TK_B7b, minor: 5 }] },
  { top: 1215, bottom: 1377, ymax: 0.005, ylab: "0.005", series: sr(B_D2O_V1_LIGHT, B_D2O_V1_MID, B_D2O_V1_DARK, B_D2O_V1_BLUE),
    segs: [{ px0: 348, px1: 553, hi: 2694.6, lo: 2673.0, labels: TK_B8, minor: 5 }, { px0: 558, px1: 647, hi: 2646.3, lo: 2622.9, labels: TK_B8b, minor: 5 }] },
  { top: 1215, bottom: 1377, ymax: 0.012, ylab: "0.012", series: sr(B_D2O_V2_LIGHT, B_D2O_V2_MID, B_D2O_V2_DARK, B_D2O_V2_BLUE),
    segs: [{ px0: 656, px1: 955, hi: 1213.3, lo: 1168.0, labels: TK_B9, minor: 5 }] },
];

const T_PAD = 10;
const B_PAD = 22;
const R_PAD = 16;

function SegChart({ panel, seg, first }: { panel: Panel; seg: Seg; first: boolean }) {
  const ref = useRef<HTMLCanvasElement>(null);
  const L = first ? 40 : 16;
  const w = seg.px1 - seg.px0 + L + R_PAD;
  const h = panel.bottom - panel.top + T_PAD + B_PAD;
  useEffect(() => {
    const ticks: number[] = [];
    const start = Math.ceil(seg.lo / seg.minor) * seg.minor;
    for (let v = start; v <= seg.hi + 1e-9; v += seg.minor) ticks.push(Math.round(v * 1000) / 1000);
    const chart = new Chart(ref.current as HTMLCanvasElement, {
      type: "line",
      data: {
        datasets: panel.series.map((s) => ({
          data: s.pts.map(([x, y]) => ({ x, y })),
          borderColor: s.color,
          borderWidth: s.width,
          pointRadius: 0,
          fill: false,
          cubicInterpolationMode: "monotone",
        })),
      },
      options: {
        animation: false,
        responsive: false,
        events: [],
        layout: { padding: { left: first ? 0 : L, right: R_PAD, top: T_PAD, bottom: 0 } },
        plugins: { legend: { display: false }, tooltip: { enabled: false } },
        scales: {
          x: {
            type: "linear",
            reverse: true,
            min: seg.lo,
            max: seg.hi,
            afterBuildTicks: (s: any) => { s.ticks = ticks.map((v) => ({ value: v })); },
            afterFit: (s: any) => { s.height = B_PAD; },
            ticks: {
              autoSkip: false, maxRotation: 0, minRotation: 0, padding: 1, color: "#1e1e1e",
              font: { family: FONT, size: 11.5 },
              callback: (v: any) => (seg.labels.includes(Number(v)) ? String(v) : ""),
            },
            grid: { display: true, drawOnChartArea: false, drawTicks: true, tickLength: 3, color: AXIS },
            border: { display: true, color: AXIS, width: 1 },
          },
          y: {
            type: "linear",
            display: first,
            min: 0,
            max: panel.ymax,
            afterBuildTicks: (s: any) => { s.ticks = [0, panel.ymax / 2, panel.ymax].map((v) => ({ value: v })); },
            afterFit: (s: any) => { s.width = first ? L : 0; },
            ticks: {
              padding: 2, color: "#1e1e1e", font: { family: FONT, size: 11.5 },
              callback: (v: any) => (Math.abs(Number(v) - panel.ymax) < 1e-12 ? panel.ylab : ""),
            },
            grid: { display: true, drawOnChartArea: false, drawTicks: true, tickLength: 3, color: AXIS },
            border: { display: true, color: AXIS, width: 1 },
          },
        },
      } as any,
    });
    return () => chart.destroy();
  }, []);
  return (
    <canvas
      ref={ref}
      width={w}
      height={h}
      style={{ position: "absolute", left: seg.px0 - L, top: panel.top - T_PAD, width: w, height: h, display: "block" }}
    />
  );
}

// ===================== annotations =====================
const t = (x: number, y: number, s: string, size = 18, color = BLK, o: any = {}) => ({ k: "t", x, y, s, size, color, ...o });
const rt = (x: number, y: number, s: string, size = 11, color = BLK) => ({ k: "r", x, y, s, size, color });
const ar = (x: number, y1: number, y2: number, color = BLK, x2?: number) => ({ k: "a", x, y1, y2, color, x2: x2 === undefined ? x : x2 });
const bx = (x: number, y: number, w: number, s: string) => ({ k: "b", x, y, w, s });
const nq = (x: number, y: number) => ({ k: "q", x, y });
const nu = (x: number, y: number) => ({ k: "n", x, y });
const fr = (x: number, y: number, w: number, h: number) => ({ k: "f", x, y, w, h });
const G = GRAY;
const GR = GREEN;

const ANN: any[] = [
  // ---------- (a) row 1 ----------
  bx(41, 76, 83, "H_{2}O ν_{3} (B_{2})"),
  t(55, 186, "2_{02}"), t(55, 214, "←1_{01}"),
  t(149, 109, "1_{01}"), t(148, 138, "←0_{00}"),
  nq(224, 190), ar(229, 197, 225, G),
  t(240, 215, "*N_{2}", 14), t(185, 224, "gas", 9, G, { it: true }),
  t(272, 118, "0_{00}"), t(272, 147, "←1_{01}"), ar(286, 155, 204),
  rt(324, 193, "(H_{2}O)_{2}^{PD}", 12),
  rt(29, 152, "Intensity / a.u.", 14), t(187, 273, "Energy / cm^{-1}", 13, BLK, { mid: true }),
  bx(349, 76, 83, "H_{2}O ν_{1} (A1)"),
  t(353, 125, "1_{11}"), t(353, 154, "←0_{00}"), ar(354, 158, 186),
  t(437, 152, "1_{10}", 18, G), t(436, 180, "←1_{01}", 18, G), ar(448, 190, 206, G),
  t(467, 207, "gas", 9, G, { it: true }),
  t(508, 192, "*N_{2}", 17), nq(542, 166),
  bx(657, 76, 84, "H_{2}O ν_{2} (A_{1})"),
  t(747, 101, "1_{11}"), t(746, 130, "←0_{00}"),
  t(691, 167, "2_{12}"), t(692, 195, "←1_{01}"), ar(706, 208, 228),
  t(797, 146, "1_{10}"), t(797, 173, "←1_{01}"), ar(807, 178, 206),
  t(832, 199, "*N_{2}", 13), ar(838, 205, 229),
  rt(866, 178, "(H_{2}O)_{2}^{PA}", 11), ar(860, 195, 219),
  nu(871, 202),
  t(917, 149, "1_{01}", 18, G), t(917, 177, "←1_{10}", 18, G), ar(932, 180, 226, G),
  t(662, 227, "gas", 9, G, { it: true }), t(768, 224, "gas", 9, G, { it: true }), t(915, 221, "gas", 9, G, { it: true }),
  // ---------- (a) row 2 ----------
  bx(41, 294, 85, "HDO ν_{3} (A')"),
  t(143, 310, "1_{01}"), t(141, 337, "←0_{00}"),
  t(75, 334, "1_{11}"), t(75, 363, "←0_{00}"),
  t(96, 430, "(H_{2}O)", 9),
  rt(188, 430, "(HDO*H_{2}O)^{PD}", 10),
  t(184, 382, "HDO*N_{2} or", 10), t(188, 402, "1_{10}←1_{11}", 10), ar(200, 407, 428),
  nq(222, 418),
  t(274, 372, "0_{00}"), t(273, 401, "←1_{01}"), ar(289, 410, 441),
  t(297, 439, "H_{2}O", 9),
  bx(349, 294, 85, "HDO ν_{1} (A')"),
  t(447, 324, "1_{01}"), t(446, 352, "←0_{00}"),
  t(362, 391, "1_{11}"), t(361, 419, "←0_{00}"), ar(376, 423, 446),
  nu(541, 378),
  t(606, 390, "0_{00}"), t(606, 418, "←1_{01}"), ar(622, 427, 446),
  bx(657, 294, 86, "HDO ν_{2} (A')"),
  t(755, 311, "1_{11}"), t(756, 338, "←0_{00}"),
  t(797, 369, "1_{01}"), t(796, 396, "←0_{00}"),
  rt(864, 390, "(HDO)_{2}^{PA}", 12), ar(857, 425, 450),
  nu(871, 377), ar(875, 383, 396),
  t(920, 391, "0_{00}"), t(918, 419, "←1_{01}"), ar(938, 428, 448),
  // ---------- (a) row 3 ----------
  bx(41, 512, 84, "D_{2}O ν_{3} (B_{2})"),
  t(152, 532, "1_{01}"), t(152, 561, "←0_{00}"),
  t(57, 618, "2_{02}"), t(58, 647, "←1_{01}"),
  rt(126, 620, "HDO ν_{2}^{2}", 16),
  nu(222, 600), ar(227, 604, 630),
  t(284, 556, "0_{00}"), t(284, 585, "←1_{01}"), ar(307, 597, 663),
  rt(333, 637, "(D_{2}O)_{2}^{PD}", 10),
  bx(349, 512, 83, "D_{2}O ν_{1} (A_{1})"),
  t(371, 562, "1_{11}"), t(370, 590, "←0_{00}"),
  t(447, 598, "1_{10}", 18, G), t(447, 626, "←1_{01}", 18, G), ar(460, 630, 651, G),
  nu(541, 617),
  fr(578, 518, 44, 58), fr(606, 575, 46, 60),
  rt(587, 547, "(HDO*H_{2}O)^{PD}", 9), rt(601, 547, "(HDO)_{2}^{PD}", 9), rt(615, 547, "(HDO*D_{2}O)^{PD}", 9),
  rt(618, 605, "(D_{2}O*H_{2}O)^{PD}", 9), rt(632, 605, "(D_{2}O*HDO)^{PD}", 9), rt(646, 605, "(D_{2}O)_{2}^{PD}", 9),
  ar(597, 578, 624),
  bx(657, 512, 84, "D_{2}O ν_{2} (A_{1})"),
  t(754, 522, "1_{11}"), t(753, 551, "←0_{00}"),
  t(672, 591, "2_{12}", 18, G), t(672, 619, "←1_{01}", 18, G), ar(688, 625, 660, G),
  rt(788, 630, "(D_{2}O*H_{2}O)^{PD}", 10),
  t(802, 582, "1_{10}"), t(802, 609, "←1_{01}"), ar(808, 617, 656),
  rt(866, 600, "(D_{2}O)_{2}^{PA}", 11), ar(860, 623, 651),
  nu(871, 627),
  t(925, 591, "1_{01}", 18, G), t(924, 619, "←1_{10}", 18, G), ar(942, 622, 661, G),
  // ---------- (b) row 1 ----------
  bx(41, 780, 83, "H_{2}O ν_{3} (B_{2})"),
  t(153, 798, "1_{01}"), t(153, 827, "←0_{00}"),
  t(78, 855, "2_{02}"), t(78, 882, "←1_{01}"), ar(91, 886, 918, G),
  nq(214, 898),
  t(272, 814, "0_{00}"), t(272, 842, "←1_{01}"), ar(297, 845, 912),
  rt(325, 882, "(H_{2}O)_{2}^{PD}", 12),
  rt(29, 868, "Intensity / a.u.", 14), t(190, 978, "Energy / cm^{-1}", 13, BLK, { mid: true }),
  bx(349, 780, 83, "H_{2}O ν_{1} (A_{1})"),
  t(353, 836, "1_{11}"), t(352, 863, "←0_{00}"), ar(355, 867, 906),
  t(425, 836, "1_{10}"), t(425, 863, "←1_{01}"), ar(433, 867, 899),
  nu(527, 845), ar(532, 850, 888),
  rt(615, 812, "(H_{2}O)_{2}^{PD}", 12),
  bx(657, 780, 84, "H_{2}O ν_{2} (A_{1})"),
  t(749, 793, "1_{11}"), t(749, 819, "←0_{00}"),
  t(805, 793, "1_{10}"), t(804, 819, "←1_{01}"),
  t(669, 867, "2_{12}"), t(669, 893, "←1_{01}"), ar(688, 900, 923),
  rt(871, 855, "(H_{2}O)_{2}^{PA}", 12),
  nq(875, 891),
  t(917, 860, "1_{01}", 18, GR), t(916, 887, "←1_{10}", 18, GR), ar(933, 891, 919, GR),
  // ---------- (b) row 2 ----------
  bx(41, 998, 85, "HDO ν_{3} (A')"),
  t(133, 1018, "1_{01}", 18, GR), t(132, 1049, "←0_{00}", 18, GR),
  t(70, 1066, "1_{11}", 18, GR), t(69, 1093, "←0_{00}", 18, GR), ar(81, 1097, 1128, GR),
  t(92, 1138, "(H_{2}O)", 10),
  t(145, 1088, "HDO*N_{2} or", 11, GR), t(149, 1108, "1_{10}←1_{11}", 10, GR), ar(170, 1116, 1133, GR),
  nq(211, 1088),
  ar(216, 1094, 1146, "#b8b8b8", 194), ar(233, 1094, 1146, "#b8b8b8", 251),
  t(257, 1133, "(H_{2}O)", 8), ar(260, 1136, 1143),
  t(315, 1133, "(H_{2}O)", 8), ar(328, 1137, 1146),
  bx(349, 998, 85, "HDO ν_{1} (A')"),
  t(437, 1033, "1_{01}"), t(437, 1061, "←0_{00}"),
  nq(522, 1093),
  t(552, 1140, "?", 8),
  t(572, 1091, "0_{00}"), t(573, 1119, "←1_{01}"), ar(584, 1121, 1142),
  bx(657, 998, 86, "HDO ν_{2} (A')"),
  t(777, 1025, "1_{01}"), t(777, 1051, "←0_{00}"),
  t(704, 1051, "1_{11}"), t(704, 1080, "←0_{00}"),
  t(779, 1141, "?", 8), t(820, 1146, "?", 8),
  rt(865, 1126, "(HDO)_{2}^{PA}", 12),
  nu(873, 1083), ar(879, 1088, 1141),
  rt(898, 1120, "(HDO)_{2}^{PD}", 12),
  t(922, 1095, "0_{00}"), t(920, 1122, "←1_{01}"), ar(938, 1125, 1149),
  // ---------- (b) row 3 ----------
  bx(41, 1216, 84, "D_{2}O ν_{3} (B_{2})"),
  t(138, 1255, "1_{01}"), t(137, 1283, "←0_{00}"),
  t(72, 1279, "2_{02}", 18, G), t(72, 1307, "←1_{01}", 18, G), ar(87, 1311, 1360, G),
  rt(76, 1336, "(HDO) ν_{2}^{2}", 10),
  t(173, 1317, "sh", 8), ar(175, 1320, 1333, BLK, 168),
  nq(211, 1268),
  rt(253, 1303, "(D_{2}O)_{2}^{PA}", 12),
  t(273, 1288, "0_{00}", 18, GR), t(273, 1315, "←1_{01}", 18, GR), ar(287, 1322, 1356, GR),
  rt(333, 1296, "(D_{2}O)_{2}^{PD}", 12),
  bx(349, 1216, 83, "D_{2}O ν_{1} (A_{1})"),
  t(354, 1266, "1_{11}"), t(353, 1294, "←0_{00}"), ar(360, 1297, 1320),
  t(370, 1331, "sh", 8), ar(371, 1334, 1346, BLK, 364),
  t(421, 1292, "1_{10}", 18, G), t(420, 1318, "←1_{01}", 18, G), ar(429, 1323, 1350, G),
  nq(517, 1322),
  fr(559, 1227, 47, 58), fr(606, 1255, 44, 55),
  rt(569, 1256, "(HDO*H_{2}O)^{PD}", 9), rt(583, 1256, "(HDO)_{2}^{PD}", 9), rt(597, 1256, "(HDO*D_{2}O)^{PD}", 9),
  rt(616, 1283, "(D_{2}O*H_{2}O)^{PD}", 9), rt(630, 1283, "(D_{2}O*HDO)^{PD}", 9), rt(644, 1283, "(D_{2}O)_{2}^{PD}", 9),
  bx(657, 1216, 83, "D_{2}O ν_{2} (A_{1})"),
  t(763, 1229, "1_{11}"), t(763, 1258, "←0_{00}"),
  t(766, 1278, "sh", 8), ar(768, 1282, 1303, BLK, 762),
  t(692, 1292, "2_{12}", 18, G), t(692, 1319, "←1_{01}", 18, G), ar(709, 1337, 1350, G),
  t(793, 1294, "1_{10}"), t(793, 1322, "←1_{01}"), ar(809, 1330, 1351),
  rt(870, 1335, "(D_{2}O)_{2}^{PA}", 12),
  nq(872, 1307),
  t(916, 1293, "1_{01}", 18, GR), t(915, 1320, "←1_{10}", 18, GR), ar(928, 1334, 1357, GR),
];

const GREEN_LINES: [number, number, number][] = [
  [229, 58, 690], [545, 58, 690], [875, 58, 690],
  [221, 760, 1390], [532, 760, 1390], [880, 760, 1390],
];
const BREAKS: [number, number][] = [[278.5, 236], [585.5, 236], [320, 669], [586, 669], [279, 939], [558.5, 939], [278.5, 1377], [555.5, 1377]];

const LEGEND: { x1: number; x2: number; tx: number; y: number; color: string; s: string }[] = [
  { x1: 417, x2: 445, tx: 450, y: 20, color: C_LIGHT, s: "D_{2}O:Ar (1:1000) 2 layer" },
  { x1: 606, x2: 633, tx: 638, y: 20, color: C_MID, s: "D_{2}O:Ar (1:500) 3 layer" },
  { x1: 797, x2: 825, tx: 829, y: 20, color: C_DARK, s: "D_{2}O:Ar (1:250) 3 layer" },
  { x1: 430, x2: 458, tx: 461, y: 725, color: C_LIGHT, s: "D_{2}O:Ne (1:1000) 1 Layer" },
  { x1: 612, x2: 639, tx: 643, y: 725, color: C_MID, s: "D_{2}O:Ne (1:500) 1 Layer" },
  { x1: 793, x2: 820, tx: 823, y: 725, color: C_DARK, s: "D_{2}O:Ne (1:250) 1 Layer" },
  { x1: 793, x2: 820, tx: 823, y: 745, color: C_BLUE, s: "D_{2}O:Ne (1:250) 3 Layer" },
];

function Rich({ s, size }: { s: string; size: number }) {
  const parts = s.split(/(_\{[^}]*\}|\^\{[^}]*\})/).filter((p) => p !== "");
  let cur = 0;
  return (
    <>
      {parts.map((p, i) => {
        let kind = 0;
        let txt = p;
        if (p.startsWith("_{")) { kind = 1; txt = p.slice(2, -1); }
        else if (p.startsWith("^{")) { kind = 2; txt = p.slice(2, -1); }
        const target = kind === 1 ? size * 0.3 : kind === 2 ? -size * 0.38 : 0;
        const dy = target - cur;
        cur = target;
        return (
          <tspan key={i} dy={dy} fontSize={kind ? size * 0.66 : size}>
            {txt}
          </tspan>
        );
      })}
    </>
  );
}

function renderAnn(a: any, i: number) {
  switch (a.k) {
    case "t":
      return (
        <text key={i} x={a.x} y={a.y} fill={a.color} fontSize={a.size} fontFamily={FONT}
          fontStyle={a.it ? "italic" : "normal"} textAnchor={a.mid ? "middle" : "start"}>
          <Rich s={a.s} size={a.size} />
        </text>
      );
    case "r":
      return (
        <text key={i} x={a.x} y={a.y} fill={a.color} fontSize={a.size} fontFamily={FONT}
          textAnchor="middle" transform={`rotate(-90 ${a.x} ${a.y})`}>
          <Rich s={a.s} size={a.size} />
        </text>
      );
    case "a": {
      const dx = a.x2 - a.x;
      const dy = a.y2 - a.y1;
      const len = Math.hypot(dx, dy) || 1;
      const ux = dx / len;
      const uy = dy / len;
      const hl = 5;
      const hw = 2.2;
      const bxp = a.x2 - ux * hl;
      const byp = a.y2 - uy * hl;
      const pts = `${a.x2},${a.y2} ${bxp - uy * hw},${byp + ux * hw} ${bxp + uy * hw},${byp - ux * hw}`;
      return (
        <g key={i}>
          <line x1={a.x} y1={a.y1} x2={bxp} y2={byp} stroke={a.color} strokeWidth={1} />
          <polygon points={pts} fill={a.color} />
        </g>
      );
    }
    case "b":
      return (
        <g key={i}>
          <rect x={a.x} y={a.y} width={a.w} height={23} fill="#ebebeb" />
          <text x={a.x + 3} y={a.y + 17} fontSize={15} fontFamily={FONT} fill={BLK}>
            <Rich s={a.s} size={15} />
          </text>
        </g>
      );
    case "q":
      return (
        <text key={i} x={a.x} y={a.y} fontSize={20} fontFamily={SERIF} fill="#a8a8a8">
          <tspan fontStyle="italic">ν</tspan>(?)
        </text>
      );
    case "n":
      return (
        <text key={i} x={a.x} y={a.y} fontSize={18} fontFamily={SERIF} fill={BLK} fontStyle="italic">
          ν
        </text>
      );
    case "f":
      return <rect key={i} x={a.x} y={a.y} width={a.w} height={a.h} fill="#fff" fillOpacity={0.6} stroke="#c4c4c4" strokeWidth={1} />;
    default:
      return null;
  }
}

function Overlay() {
  return (
    <svg width={965} height={1390} style={{ position: "absolute", left: 0, top: 0, pointerEvents: "none" }}>
      {GREEN_LINES.map(([x, y1, y2], i) => (
        <line key={"g" + i} x1={x} y1={y1} x2={x} y2={y2} stroke={GREEN_LINE} strokeWidth={1.3} strokeDasharray="2 2.5" />
      ))}
      {BREAKS.map(([x, y], i) => (
        <g key={"br" + i}>
          <rect x={x - 4} y={y - 3} width={8} height={6} fill="#fff" />
          <line x1={x - 5} y1={y + 3} x2={x - 1} y2={y - 3} stroke="#555" strokeWidth={1} />
          <line x1={x} y1={y + 3} x2={x + 4} y2={y - 3} stroke="#555" strokeWidth={1} />
        </g>
      ))}
      <text x={12} y={41} fontSize={26} fontFamily={FONT} fill={BLK}>(a) Ar-Matrix at 6K</text>
      <text x={12} y={745} fontSize={26} fontFamily={FONT} fill={BLK}>(b) Ne-Matrix at 6K</text>
      {LEGEND.map((l, i) => (
        <g key={"l" + i}>
          <line x1={l.x1} y1={l.y} x2={l.x2} y2={l.y} stroke={l.color} strokeWidth={1.3} />
          <text x={l.tx} y={l.y + 5} fontSize={13} fontFamily={FONT} fill={BLK}>
            <Rich s={l.s} size={13} />
          </text>
        </g>
      ))}
      {ANN.map((a, i) => renderAnn(a, i))}
    </svg>
  );
}

export default function App() {
  useEffect(() => {
    document.body.style.margin = "0";
  }, []);
  return (
    <div style={{ position: "absolute", left: 0, top: 0, width: 965, height: 1390, overflow: "hidden", background: "#fff", fontFamily: FONT }}>
      {PANELS.map((p, i) => p.segs.map((s, j) => <SegChart key={i + "-" + j} panel={p} seg={s} first={j === 0} />))}
      <Overlay />
    </div>
  );
}
